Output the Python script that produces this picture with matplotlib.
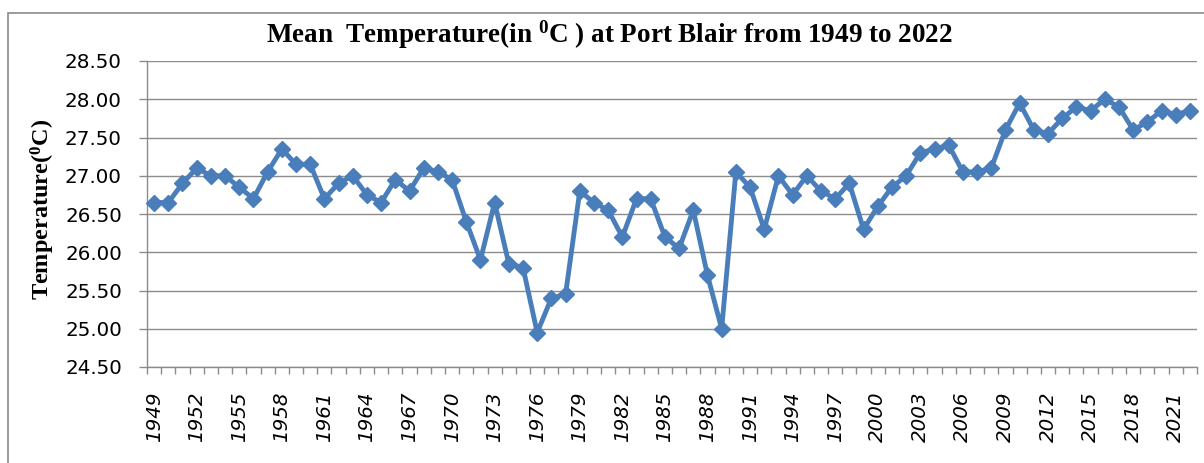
import numpy as np
import matplotlib
matplotlib.use("Agg")
import matplotlib.pyplot as plt
from matplotlib.patches import Rectangle

years = list(range(1949, 2023))
temps = [26.65, 26.65, 26.90, 27.10, 27.00, 27.00, 26.85, 26.70, 27.05, 27.35,
         27.15, 27.15, 26.70, 26.90, 27.00, 26.75, 26.65, 26.95, 26.80, 27.10,
         27.05, 26.95, 26.40, 25.90, 26.65, 25.85, 25.80, 24.95, 25.40, 25.45,
         26.80, 26.65, 26.55, 26.20, 26.70, 26.70, 26.20, 26.05, 26.55, 25.70,
         25.00, 27.05, 26.85, 26.30, 27.00, 26.75, 27.00, 26.80, 26.70, 26.90,
         26.30, 26.60, 26.85, 27.00, 27.30, 27.35, 27.40, 27.05, 27.05, 27.10,
         27.60, 27.95, 27.60, 27.55, 27.75, 27.90, 27.85, 28.00, 27.90, 27.60,
         27.70, 27.85, 27.80, 27.85]
yticks = [24.5, 25.0, 25.5, 26.0, 26.5, 27.0, 27.5, 28.0, 28.5]
label_step = 3

plt.rcParams['mathtext.fontset'] = 'custom'
plt.rcParams['mathtext.rm'] = 'Liberation Serif:bold'
plt.rcParams['mathtext.bf'] = 'Liberation Serif:bold'
plt.rcParams['mathtext.it'] = 'Liberation Serif:bold'

W, H = 1204, 463
fig = plt.figure(figsize=(W / 100, H / 100), dpi=100)
fig.patch.set_facecolor('white')

# outer chart border
fig.patches.append(Rectangle((8 / W, -0.05), 1.2, 1 - 13 / H + 0.05,
                             transform=fig.transFigure, fill=False,
                             edgecolor='#8a8a8a', linewidth=1.2))

ax = fig.add_axes([147 / W, 1 - 367 / H, (1197 - 147) / W, (367 - 61) / H])
x = np.arange(len(years))
ax.plot(x, temps, color='#4a7ebb', linewidth=3.5, marker='D',
        markersize=7.8, markerfacecolor='#4a7ebb', markeredgecolor='#4a7ebb',
        markeredgewidth=1, zorder=3, clip_on=False)

ax.set_xlim(-0.5, len(years) - 0.5)
ax.set_ylim(24.5, 28.5)
ax.set_yticks(yticks)
ax.set_yticklabels([f"{v:.2f}" for v in yticks], fontfamily='DejaVu Sans', fontsize=14.3)
ax.yaxis.grid(True, color='#8c8c8c', linewidth=1.0)
ax.set_axisbelow(True)

ax.set_xticks(x[::label_step])
ax.set_xticklabels([str(y) for y in years[::label_step]], rotation=90,
                   fontfamily='DejaVu Sans', fontstyle='italic', fontsize=14.3)
ax.set_xticks(np.arange(-0.5, len(years), 1), minor=True)
ax.tick_params(axis='x', which='major', length=0, pad=18)
ax.tick_params(axis='x', which='minor', length=5, width=1.0, color='#8c8c8c', direction='out')
ax.tick_params(axis='y', which='major', length=6, width=1.0, color='#8c8c8c', pad=12)

for s in ['top', 'right']:
    ax.spines[s].set_visible(False)
for s in ['left', 'bottom']:
    ax.spines[s].set_color('#8c8c8c')
    ax.spines[s].set_linewidth(1.0)

fig.text(609 / W, 1 - 35 / H, r"Mean  Temperature(in $^{0}$C ) at Port Blair from 1949 to 2022",
         ha='center', va='center', fontfamily='Liberation Serif', fontweight='bold', fontsize=19.5)
fig.text(43 / W, 1 - 209 / H, r"Temperature($^{0}$C)", rotation=90,
         ha='center', va='center', fontfamily='Liberation Serif', fontweight='bold', fontsize=17.5)

fig.savefig('out.png', dpi=100, facecolor='white')
